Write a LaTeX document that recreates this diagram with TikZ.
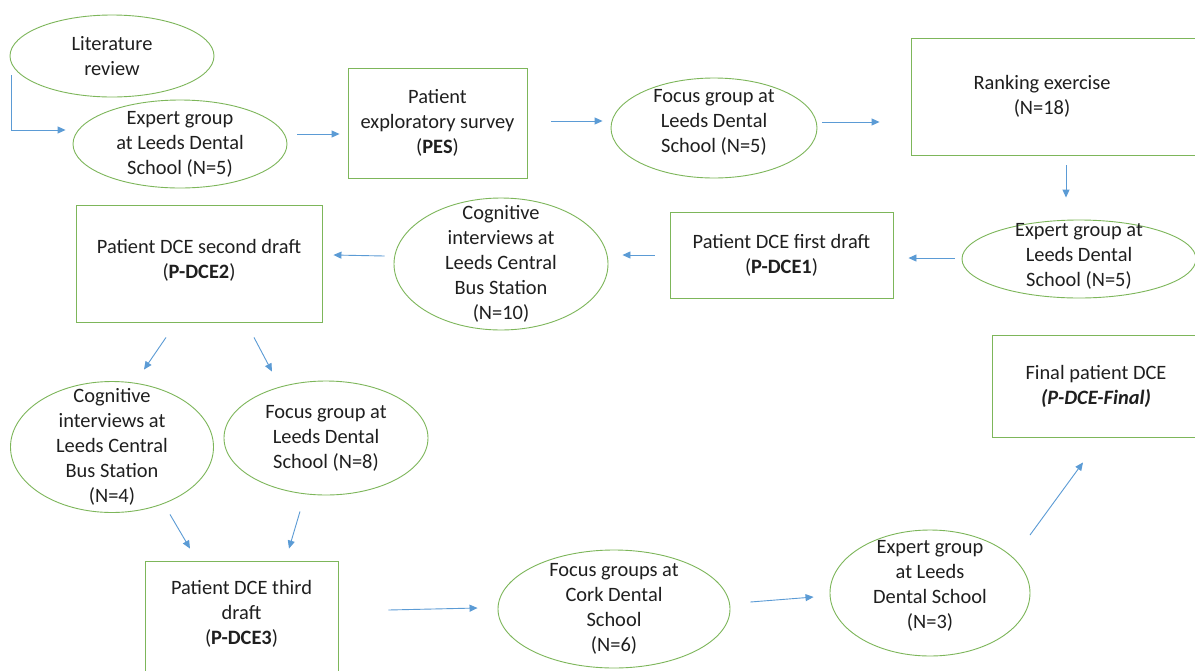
\documentclass[tikz,border=0pt]{standalone}
\usepackage{fontspec}
\setmainfont{Carlito}
\usetikzlibrary{shapes.geometric,calc,arrows.meta}
\definecolor{gr}{HTML}{7DB65A}
\definecolor{bl}{HTML}{5B9BD5}
\definecolor{tx}{HTML}{1F1F1F}
\tikzset{
 ell/.style={ellipse, draw=gr, line width=0.9pt, inner sep=0pt},
 box/.style={rectangle, draw=gr, line width=0.9pt, inner sep=0pt},
 txt/.style={align=center, text=tx, font=\fontsize{20.4}{25}\selectfont},
 arr/.style={draw=bl, line width=0.9pt, -{Triangle[length=8pt,width=7pt]}},
}
\begin{document}
\begin{tikzpicture}[x=1pt,y=-1pt]
\useasboundingbox (0,0) rectangle (1195,670);
\clip (0,0) rectangle (1195,670);
\fill[white] (0,0) rectangle (1195,670);
% row 1
\node[ell, minimum width=204pt, minimum height=82pt, label={[txt]center:{Literature\\review}}] (lit) at (112,56) {};
\node[ell, minimum width=214pt, minimum height=88pt, label={[txt]center:{Expert group\\at Leeds Dental\\School (N=5)}}] (exp1) at (180,144) {};
\node[box, minimum width=179pt, minimum height=110pt, label={[txt]center:{Patient\\exploratory survey\\(\textbf{PES})}}] (pes) at (437.5,123) {};
\node[ell, minimum width=206pt, minimum height=100pt, label={[txt,yshift=6pt]center:{Focus group at\\Leeds Dental\\School (N=5)}}] (fg1) at (714,128) {};
\node[box, minimum width=304pt, minimum height=117pt, label={[txt,xshift=-21pt]center:{Ranking exercise\\(N=18)}}] (rank) at (1063,96.5) {};
% row 2
\node[ell, minimum width=234pt, minimum height=78pt, label={[txt,yshift=3pt]center:{Expert group at\\Leeds Dental\\School (N=5)}}] (expR) at (1079,259) {};
\node[box, minimum width=223pt, minimum height=86pt, label={[txt]center:{Patient DCE first draft\\(\textbf{P-DCE1})}}] (dce1) at (781.5,255) {};
\node[ell, minimum width=214pt, minimum height=132pt, label={[txt]center:{Cognitive\\interviews at\\Leeds Central\\Bus Station\\(N=10)}}] (cog1) at (501,264) {};
\node[box, minimum width=246pt, minimum height=117pt, label={[txt,yshift=3pt]center:{Patient DCE second draft\\(\textbf{P-DCE2})}}] (dce2) at (199,263.5) {};
% row 3
\node[ell, minimum width=203pt, minimum height=131pt, label={[txt]center:{Cognitive\\interviews at\\Leeds Central\\Bus Station\\(N=4)}}] (cog2) at (112,447) {};
\node[ell, minimum width=204pt, minimum height=114pt, label={[txt]center:{Focus group at\\Leeds Dental\\School (N=8)}}] (fg2) at (326,438) {};
\node[box, minimum width=208pt, minimum height=102pt, label={[txt]center:{Final patient DCE\\\textbf{\textit{(P-DCE-Final)}}}}] (final) at (1096,386) {};
% row 4
\node[box, minimum width=193pt, minimum height=114pt, label={[txt,yshift=4pt]center:{Patient DCE third\\draft\\(\textbf{P-DCE3})}}] (dce3) at (241.5,618) {};
\node[ell, minimum width=232pt, minimum height=118pt, label={[txt]center:{Focus groups at\\Cork Dental\\School\\(N=6)}}] (cork) at (614,609) {};
\node[ell, minimum width=200pt, minimum height=126pt, label={[txt,yshift=7.5pt]center:{Expert group\\at Leeds\\Dental School\\(N=3)}}] (expB) at (930,593) {};
% connectors
\draw[arr] ($(lit.west)+(2,19)$) |- ($(exp1.west)+(-7,-14)$);
\draw[arr] ($(exp1.east)+(10,-10)$) -- ($(pes.west)+(-8,11)$);
\draw[arr] ($(pes.east)+(24,-2)$) -- ($(fg1.west)+(-8,-7)$);
\draw[arr] ($(fg1.east)+(5,-6)$) -- ($(rank.west)+(-31,25.5)$);
\draw[arr] ($(rank.south)+(3,10)$) -- ($(expR.north)+(-13,-22)$);
\draw[arr] ($(expR.west)+(-7,-1)$) -- ($(dce1.east)+(15,3)$);
\draw[arr] ($(dce1.west)+(-15,0)$) -- ($(cog1.east)+(14,-9)$);
\draw[arr] ($(cog1.west)+(-9,-8)$) -- ($(dce2.east)+(11,-8.5)$);
\draw[arr] ($(dce2.south)+(-33,15)$) -- ($(cog2.north)+(32,-11.5)$);
\draw[arr] ($(dce2.south)+(55,15)$) -- ($(fg2.north)+(-54,-9)$);
\draw[arr] ($(cog2.south)+(58,1.5)$) -- ($(dce3.north)+(-51.5,-12)$);
\draw[arr] ($(fg2.south)+(-26,16)$) -- ($(dce3.north)+(47.5,-12)$);
\draw[arr] ($(dce3.east)+(50,-8)$) -- ($(cork.west)+(-20,-1)$);
\draw[arr] ($(cork.east)+(20,-7)$) -- ($(expB.west)+(-16,4)$);
\draw[arr] ($(expB.center)+(100,-58)$) -- ($(final.south)+(-13,25)$);
\end{tikzpicture}
\end{document}
